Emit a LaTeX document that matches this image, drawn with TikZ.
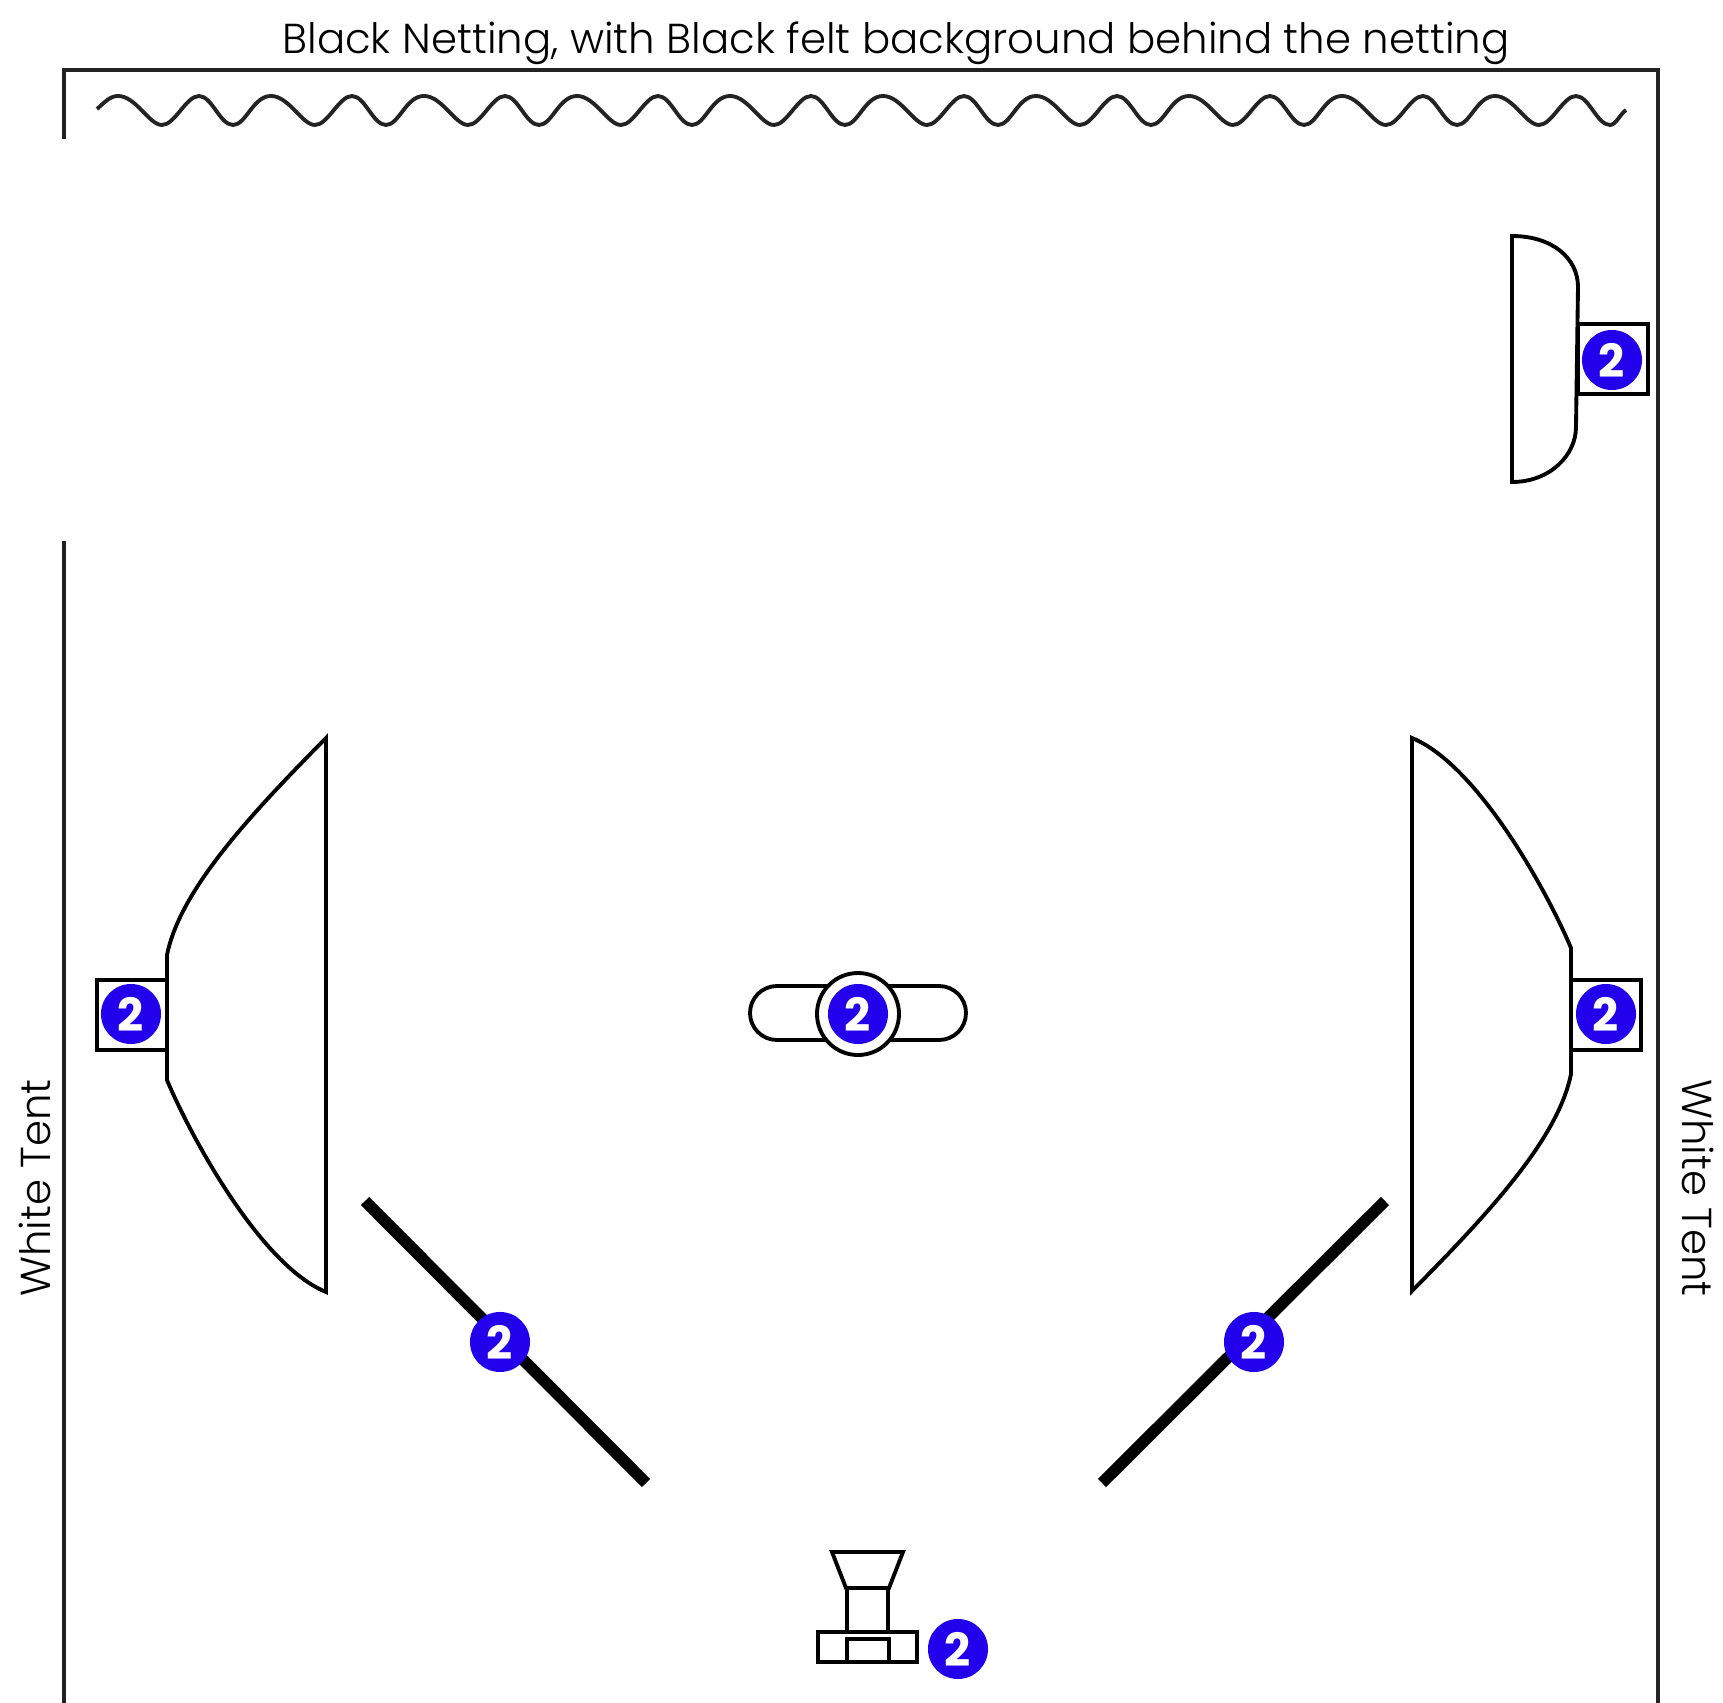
\documentclass[tikz,border=0pt]{standalone}
\usepackage{fontspec}
\usepackage{xcolor}
\setmainfont{Poppins}[UprightFont=* Light,BoldFont=* Bold]
\definecolor{badgeblue}{RGB}{35,0,235}
\definecolor{wallgray}{RGB}{35,35,35}
\tikzset{
numbadge/.style={circle,fill=badgeblue,text=white,inner sep=0pt,minimum size=0.6cm,font=\bfseries\fontsize{13}{13}\selectfont},
gear/.style={draw=black,line width=1.1pt,fill=white},
wall/.style={draw=wallgray,line width=1.1pt},
flag/.style={draw=black,line width=3.3pt},
walltext/.style={font=\fontsize{11.9}{11.9}\selectfont}
}
\begin{document}
\begin{tikzpicture}[x=0.01cm,y=-0.01cm]
\useasboundingbox (0,0) rectangle (1723,1703);
\draw [wall](64,139)--(64,70)--(1658,70)--(1658,1703);
\draw [wall](64,541)--(64,1703);
\draw [wall,line join=round](97,109) .. controls (105,102) and (110,96) .. (118,96)
 \foreach \k in {0,...,9}{
 .. controls +(18,0) and +(-13,0) .. ++(44,29)
 .. controls +(13,0) and +(-13,0) .. ++(37,-29)
 .. controls +(13,0) and +(-13,0) .. ++(34,29)
 \ifnum\k<9 .. controls +(13,0) and +(-18,0) .. ++(38,-29) \fi
 } .. controls +(6,0) and +(-6,4) .. ++(16,-15);
\node (backdrop) at (896,43) [walltext]{Black Netting, with Black felt background behind the netting};
\node (tentleft) at (35,1188) [walltext,rotate=90]{White Tent};
\node (tentright) at (1698,1188) [walltext,rotate=-90]{White Tent};
% softboxes
\draw [gear](1512,236) .. controls (1552,236) and (1578,258) .. (1578,287)--(1576,427) .. controls (1576,455) and (1550,482) .. (1512,482)--cycle;
\draw [gear](1578,324) rectangle (1648,394);
\draw [gear](326,738) .. controls (250,815) and (180,890) .. (167,955)--(167,1080) .. controls (190,1135) and (260,1265) .. (326,1292)--cycle;
\draw [gear](97,980) rectangle (167,1050);
\draw [gear](1412,738) .. controls (1478,765) and (1548,893) .. (1571,948)--(1571,1074) .. controls (1558,1139) and (1488,1214) .. (1412,1291)--cycle;
\draw [gear](1571,980) rectangle (1641,1050);
% flags
\draw [flag](365,1201)--(646,1483);
\draw [flag](1385,1201)--(1102,1483);
% subject
\draw [gear,rounded corners=27*0.01cm](750,986) rectangle (966,1040);
\draw [gear](858,1014) circle (41);
% camera
\draw [gear](832,1552)--(903,1552)--(889,1588)--(846,1588)--cycle;
\draw [gear](847,1588) rectangle (888,1632);
\draw [gear](818,1632) rectangle (917,1662);
\draw [gear](847,1639) rectangle (889,1662);
\node (badgetop) at (1612,360) [numbadge]{2};
\node (badgeleft) at (131,1014) [numbadge]{2};
\node (badgeright) at (1606,1014) [numbadge]{2};
\node (badgecentre) at (858,1014) [numbadge]{2};
\node (badgeflagl) at (500,1342) [numbadge]{2};
\node (badgeflagr) at (1254,1342) [numbadge]{2};
\node (badgecam) at (958,1649) [numbadge]{2};
\end{tikzpicture}
\end{document}
